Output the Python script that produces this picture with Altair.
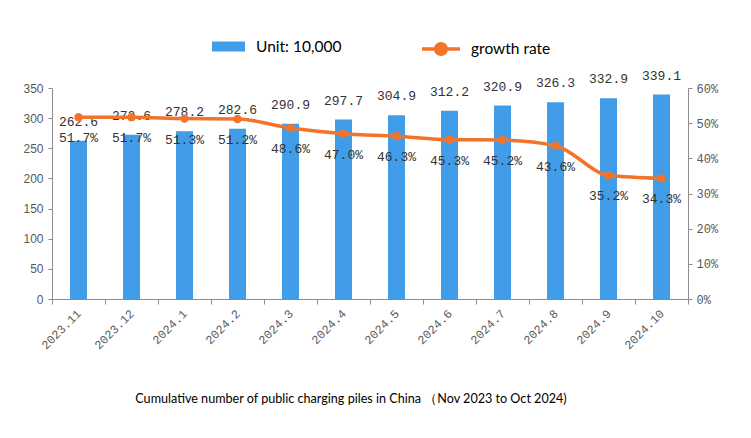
import altair as alt
import pandas as pd

months = ["2023.11", "2023.12", "2024.1", "2024.2", "2024.3", "2024.4",
          "2024.5", "2024.6", "2024.7", "2024.8", "2024.9", "2024.10"]
piles = [262.6, 272.6, 278.2, 282.6, 290.9, 297.7, 304.9, 312.2, 320.9, 326.3, 332.9, 339.1]
growth_pct = [51.7, 51.7, 51.3, 51.2, 48.6, 47.0, 46.3, 45.3, 45.2, 43.6, 35.2, 34.3]

bar_name = "Unit: 10,000"
line_name = "growth rate"
caption = "Cumulative number of public charging piles in China （Nov 2023 to Oct 2024)"

BLUE = "#419DE8"
ORANGE = "#F4732B"
AXIS_GREY = "#8C8C8C"
LABEL_GREY = "#595959"
MONO = "Liberation Mono"

df = pd.DataFrame({
    "month": months,
    "piles": piles,
    "growth": [g / 100 for g in growth_pct],
    "pile_label": [f"{p:.1f}" for p in piles],
    "growth_label": [f"{g:.1f}%" for g in growth_pct],
    "bar_series": bar_name,
    "line_series": line_name,
})

base = alt.Chart(df)

x = alt.X(
    "month:N", sort=months, title=None,
    scale=alt.Scale(paddingInner=0, paddingOuter=0),
    axis=alt.Axis(labelAngle=315, labelFont=MONO, labelFontSize=12, labelColor=LABEL_GREY,
                  tickBand="extent", tickSize=5, tickColor=AXIS_GREY, domainColor=AXIS_GREY,
                  labelPadding=7, labelAlign="right", labelBaseline="middle"),
)

y_left = alt.Y(
    "piles:Q", title=None,
    scale=alt.Scale(domain=[0, 350], nice=False),
    axis=alt.Axis(orient="left", values=[0, 50, 100, 150, 200, 250, 300, 350], grid=False,
                  labelFont="Liberation Sans", labelFontSize=12, labelColor=LABEL_GREY,
                  tickSize=4, tickColor=AXIS_GREY, domainColor=AXIS_GREY, labelPadding=5),
)

y_right = alt.Y(
    "growth:Q", title=None,
    scale=alt.Scale(domain=[0, 0.6], nice=False),
    axis=alt.Axis(orient="right", values=[0, 0.1, 0.2, 0.3, 0.4, 0.5, 0.6], format=".0%", grid=False,
                  labelFont=MONO, labelFontSize=12, labelColor=LABEL_GREY,
                  tickSize=4, tickColor=AXIS_GREY, domainColor=AXIS_GREY, labelPadding=4),
)

bars = base.mark_bar(size=17).encode(
    x=x, y=y_left,
    color=alt.Color("bar_series:N", title=None,
                    scale=alt.Scale(domain=[bar_name], range=[BLUE]),
                    legend=alt.Legend(orient="none", legendX=160, legendY=-58, padding=0,
                                      symbolType="M-1,-0.3H1V0.3H-1Z", symbolSize=1089,
                                      symbolStrokeWidth=0, labelOffset=11,
                                      labelFont="Lato", labelFontSize=15.5, labelColor="black")),
)

bar_text = base.mark_text(dy=-19, font=MONO, fontSize=13, color="#333333").encode(
    x=x, y=y_left, text="pile_label:N"
)

line = base.mark_line(interpolate="monotone", strokeWidth=3.5).encode(
    x=x, y=y_right,
    stroke=alt.Stroke("line_series:N", title=None,
                      scale=alt.Scale(domain=[line_name], range=[ORANGE]),
                      legend=alt.Legend(orient="none", legendX=368, legendY=-60, padding=0,
                                        symbolType="M-1,0H1M0.28,0A0.28,0.28,0,1,1,-0.28,0A0.28,0.28,0,1,1,0.28,0Z",
                                        symbolSize=1444, symbolStrokeWidth=3.5,
                                        symbolFillColor=ORANGE, labelOffset=9,
                                        labelFont="Lato", labelFontSize=15.5, labelColor="black")),
)

points = base.mark_point(filled=True, size=70, color=ORANGE, opacity=1).encode(x=x, y=y_right)

growth_text = base.mark_text(dy=21, font=MONO, fontSize=13, color="#333333").encode(
    x=x, y=y_right, text="growth_label:N"
)

chart = alt.layer(
    alt.layer(bars, bar_text),
    alt.layer(line, points, growth_text),
).resolve_scale(y="independent").properties(
    width=636, height=211,
    padding={"left": 44, "top": 80, "right": 50, "bottom": 110},
    autosize=alt.AutoSizeParams(type="none"),
    title=alt.TitleParams(caption, orient="bottom", anchor="middle", font="Lato", fontSize=12.6,
                          fontWeight="normal", color="black", offset=42, dx=-19),
).configure_view(stroke=None)

chart.save("out.html", embed_options={"renderer": "svg", "actions": False})
